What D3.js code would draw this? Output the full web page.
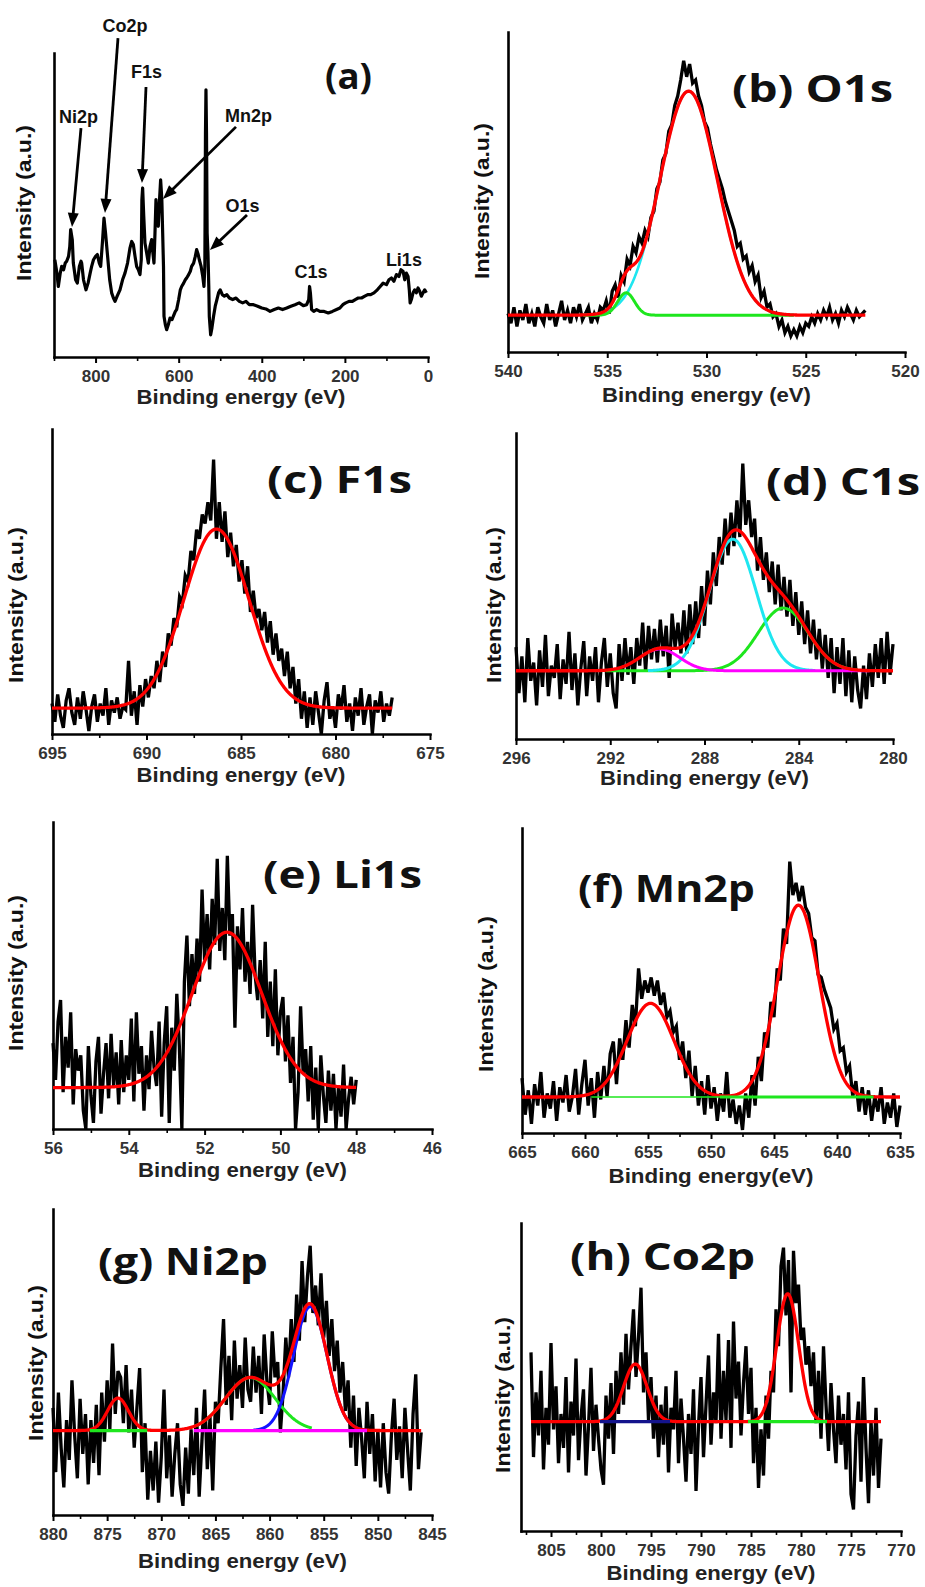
<!DOCTYPE html>
<html>
<head>
<meta charset="utf-8">
<script src="https://cdn.jsdelivr.net/npm/d3@7"></script>
<style>
  html, body { margin: 0; padding: 0; background: #fff; }
  svg { display: block; }
</style>
</head>
<body>
<svg id="fig" width="925" height="1587"></svg>
<script>
// ---------- (a) survey spectrum: binding energy (eV) and intensity (a.u., 0-100 of frame) ----------
const surveyEnergy = [898,893,889.6,885,881.5,877,873,869.5,865,862,859.9,856,853.5,848,843.9,839,835,833.4,829,823,
  818,813,809.4,805,800,795.7,791,787.7,783,779.7,776,771.7,766,761.3,757,753.2,748,741.2,735,729.2,
  723,717.1,713,709.1,705,701.1,697,693.1,690,688.5,686.7,684,681.1,677,673,669,665,662,659.4,657,
  654.6,652,649,646,643.4,640.5,638.5,636.5,635.3,632,628.9,625,620.9,616,612.9,608,604.9,600,596,592.8,
  588,584,580.8,576,572,568.8,564,560,556.7,553,550.3,546,542,539.1,537,535.5,534.3,533,531.5,529.5,
  527.5,526.3,523,520,516,512,508,504,500,495,490,484,478,470,462,454,446,438,430,420,
  410,400,390,380,370,360,350,340,330,320,310,300,292,287,285,283,280,275,268,260,
  250,240,230,220,212,205,198,190,182,175,168,160,152,145,138,130,122,115,108,100,
  94,88,82,76,70,65,60,56,52,48,45,43,40,36,32,28,24,20,16,12,8,4];
const surveyIntensity = [32.0,27.6,23.2,27.6,29.8,28.7,30.9,31.5,33.1,36.4,41.9,38.6,30.9,25.4,24.3,29.8,31.5,30.9,25.4,22.1,
  24.3,27.6,29.8,32.0,33.1,33.7,30.9,29.8,38.6,45.7,40.8,34.2,25.4,21.1,19.4,18.3,20.0,22.1,25.4,27.6,
  30.9,35.9,38.0,37.0,33.1,29.8,28.7,27.1,32.0,51.8,55.6,46.3,37.5,34.2,30.9,36.4,38.6,34.2,30.9,40.8,
  51.8,46.3,43.0,51.8,58.3,51.8,40.8,29.8,13.4,10.6,9.0,10.6,12.8,12.3,13.4,15.0,15.6,18.9,22.1,23.2,
  24.3,25.4,26.0,27.1,28.2,29.8,30.9,33.1,35.3,33.7,32.0,29.8,26.5,23.2,29.8,73.7,87.9,73.7,40.8,34.2,
  23.2,13.4,7.3,9.5,13.4,16.7,18.9,21.1,22.1,20.5,20.0,20.5,19.4,18.9,19.4,18.3,17.8,18.3,17.2,17.2,
  16.7,16.1,15.8,15.0,15.6,16.1,15.6,16.1,16.7,17.2,17.8,16.9,17.2,18.9,23.2,21.1,15.6,15.0,15.6,15.0,
  15.0,14.5,15.0,15.6,16.1,17.2,17.8,18.3,18.3,18.9,19.4,19.4,20.0,20.5,20.5,21.1,22.1,23.2,24.3,23.8,
  25.4,26.0,24.9,27.1,26.5,28.7,28.2,25.4,27.6,26.5,22.1,17.8,18.9,21.1,22.1,21.1,22.7,21.6,20.0,21.1,22.1,21.1];
const surveyTicks = [800, 600, 400, 200, 0];
// peak callouts: label, label anchor (eV, a.u.), arrow tail and tip (eV, a.u.) or null
const surveyLabels = ["Ni2p", "Co2p", "F1s", "Mn2p", "O1s", "C1s", "Li1s"];
const surveyLabelAt = [[841, 77], [729, 106.9], [677.5, 91.8], [432, 77.3], [446.5, 47.7], [281.7, 26], [58, 29.9]];
const surveyArrows = [[[835, 75.3], [856.7, 42.8]], [[746, 104.9], [777.3, 47.4]], [[678.6, 88.8], [688.3, 57.2]],
  [[462.1, 75.7], [637.8, 52]], [[435.6, 46.7], [524.7, 35.2]], null, null];

// ---------- high-resolution regions: counts on an even energy grid across the span ----------
// fitted components are given as [centre (eV), height (a.u.), FWHM (eV)] above a flat background

// (b) O1s
const o1sSpan = [540, 522];
const o1sCounts = [12,9,14,8,13,10,15,9,12,8,14,11,9,15,10,13,8,12,16,10,13,9,14,11,15,10,12,14,9,
  12,10,14,13,16,12,19,21,17,24,22,
  29,27,33,31,36,34,38,36,
  42,44,51,53,60,62,69,71,77,80,85,91,86,
  90,84,85,80,77,72,70,65,61,57,54,51,47,44,41,38,33,34,29,
  30,25,27,22,24,17,19,14,15,11,12,8,10,6,8,5,7,5,8,6,9,8,11,9,12,
  10,13,11,14,10,12,9,13,11,14,12,10,13,11,12,13];
const o1sBackground = 11.5;
const o1sPeaks = [[530.9, 70, 3.4], [534.05, 7, 1.0]];
const o1sTicks = [540, 535, 530, 525, 520];

// (c) F1s
const f1sSpan = [695, 677];
const f1sCounts = [10,4,13,6,2,11,15,7,3,12,5,14,8,1,9,13,4,10,6,15,3,11,7,12,5,9,
  8,24,6,14,3,16,9,18,12,19,15,24,17,27,22,33,29,38,35,45,43,52,50,60,57,67,64,72,69,76,
  70,90,64,76,63,73,58,66,55,62,50,57,46,55,40,47,38,41,34,40,30,37,26,33,24,28,19,27,15,22,
  10,18,5,14,2,12,
  3,14,7,0,11,17,5,9,2,13,8,16,4,10,1,12,6,15,3,9,13,0,11,7,14,4,10,6,12];
const f1sBackground = 8.5;
const f1sPeaks = [[686.3, 58.7, 4.06]];
const f1sTicks = [695, 690, 685, 680, 675];

// (d) C1s
const c1sSpan = [296, 280];
const c1sCounts = [30,15,27,12,33,19,25,11,29,17,34,14,24,20,31,13,26,18,35,16,28,11,23,32,14,27,19,30,12,25,33,17,28,
  15,10,31,19,33,21,30,18,33,24,38,22,37,26,36,25,39,27,37,20,41,30,38,28,42,28,44,31,45,33,
  50,37,55,44,61,50,66,57,72,60,74,63,78,66,90,70,78,66,72,55,66,52,61,48,58,44,57,42,53,40,
  52,37,48,34,45,31,42,28,39,26,36,23,34,20,33,15,30,18,33,14,29,12,27,16,10,24,13,28,17,31,
  20,33,18,35,21,31];
const c1sBackground = 22.3;
const c1sPeaks = [[286.8, 43, 2.33], [284.66, 20.5, 2.5], [289.9, 7.1, 2.0]];
const c1sTicks = [296, 292, 288, 284, 280];

// (e) Li1s
const li1sSpan = [56, 48];
const li1sCounts = [28,16,35,42,12,30,20,38,8,26,19,
  24,6,0,27,11,2,22,30,5,18,
  28,10,31,14,25,8,29,12,24,16,
  36,9,38,18,27,6,24,13,32,20,
  14,35,4,28,40,2,33,19,44,27,
  0,48,63,40,57,44,62,48,78,55,
  70,52,75,60,88,58,72,55,89,63,
  70,33,66,52,72,48,61,44,73,50,
  42,55,36,61,30,48,27,52,24,38,
  43,22,37,15,30,0,12,40,18,26,
  9,27,3,20,0,24,11,2,19,6,
  18,0,14,4,21,0,10,17,8,16];
const li1sBackground = 13.5;
const li1sPeaks = [[51.41, 50.6, 2.16]];
const li1sTicks = [56, 54, 52, 50, 48, 46];

// (f) Mn2p
const mn2pSpan = [665, 635];
const mn2pCounts = [18,6,14,3,16,9,20,5,13,8,17,4,15,10,19,7,
  12,21,6,16,24,
  9,18,5,20,11,22,12,26,30,16,31,24,37,28,42,35,54,44,50,46,
  51,45,50,42,46,38,40,33,35,24,30,18,27,12,22,9,17,6,19,8,
  15,4,13,7,20,5,11,3,9,1,13,5,19,9,25,17,33,28,43,38,
  54,50,67,62,89,78,82,76,81,74,72,64,63,52,51,47,44,41,34,36,
  27,28,20,22,12,17,7,15,6,14,4,12,7,15,3,10,5,13,2,9];
const mn2pBackground = 11.8;
const mn2pPeaks = [[654.8, 30.7, 4.36], [643.06, 62.9, 3.9]];
const mn2pTicks = [665, 660, 655, 650, 645, 640, 635];

// (g) Ni2p
const ni2pSpan = [880, 846];
const ni2pCounts = [35,14,40,22,9,31,18,44,26,12,38,20,33,
  10,31,17,36,13,40,24,44,28,56,33,47,
  45,30,49,27,41,22,35,48,14,30,5,21,
  8,24,4,19,41,12,26,6,20,30,10,3,
  22,7,28,13,35,6,24,41,15,32,8,37,
  30,48,64,36,52,31,57,38,49,35,58,41,
  37,55,40,52,33,59,44,36,60,45,50,27,
  40,58,45,64,50,72,57,83,63,78,88,66,
  75,62,79,58,70,52,64,47,57,40,50,34,
  44,22,39,16,35,25,12,37,20,33,11,28,
  9,30,14,7,26,38,18,29,12,35,21,8,33,46,15,27];
const ni2pBackground = 27.6;
const ni2pPeaks = [[874.0, 10.6, 2.28], [861.78, 17.3, 5.42], [856.24, 40.5, 3.65]];
const ni2pTicks = [880, 875, 870, 865, 860, 855, 850, 845];

// (h) Co2p
const co2pSpan = [807, 772];
const co2pCounts = [58,24,45,31,52,20,40,28,61,33,47,22,38,
  27,50,19,42,31,56,23,37,46,18,34,53,26,41,30,20,
  15,44,30,48,25,52,38,58,41,64,46,60,
  72,50,63,79,45,58,36,50,30,44,24,41,
  28,47,19,40,33,52,22,43,30,16,38,25,
  46,13,34,50,24,41,57,28,45,35,64,30,
  52,36,62,27,68,43,55,31,48,60,38,53,
  22,40,14,33,18,44,30,52,45,72,60,86,
  92,70,88,45,91,74,80,62,66,54,60,47,
  58,35,52,30,60,41,26,48,33,22,44,28,
  38,20,45,12,7,31,42,16,50,27,9,36,18,40,14,30];
const co2pBackground = 35.5;
const co2pPeaks = [[796.57, 18.7, 2.77], [781.33, 41.5, 2.57]];
const co2pTicks = [805, 800, 795, 790, 785, 780, 775, 770];

// ---------- drawing ----------
const FONT = "'Liberation Sans', Arial, Helvetica, sans-serif";
const LABEL_FONT = "'Open Sans', 'Liberation Sans', Arial, sans-serif";
const COL = { red: "#ff0000", green: "#1ee61e", cyan: "#1ee6f0", magenta: "#ff00ff", blue: "#1414ff", navy: "#14148c" };
const svg = d3.select("#fig");

const gauss = (e, pk) => pk[1] * Math.exp(-4 * Math.LN2 * (e - pk[0]) ** 2 / (pk[2] * pk[2]));

// Frames, axes and titles shared by every panel
function frame(p) {
  const g = svg.append("g");
  const x = d3.scaleLinear().domain(p.domain).range([p.box.x0, p.box.x1]);
  const y = d3.scaleLinear().domain([0, 100]).range([p.box.y1, p.box.y0]);

  const major = g.append("g")
    .attr("transform", `translate(0,${p.box.y1})`)
    .call(d3.axisBottom(x).tickValues(p.ticks).tickSize(6).tickSizeOuter(0).tickFormat(d3.format("d")));
  major.attr("font-family", FONT).attr("font-size", 17).attr("font-weight", "bold");
  major.select(".domain").attr("stroke-width", 2.4).attr("stroke-linecap", "square");
  major.selectAll(".tick line").attr("stroke-width", 2);
  major.selectAll(".tick text").attr("fill", "#333").attr("y", 12.5);

  const minorVals = d3.range(p.minor[0], p.domain[1], p.minor[1]);
  const minor = g.append("g")
    .attr("transform", `translate(0,${p.box.y1})`)
    .call(d3.axisBottom(x).tickValues(minorVals).tickSize(4).tickSizeOuter(0).tickFormat(""));
  minor.select(".domain").remove();
  minor.selectAll(".tick line").attr("stroke-width", 1.6);

  const yAxis = g.append("g")
    .attr("transform", `translate(${p.box.x0},0)`)
    .call(d3.axisLeft(y).tickValues([]).tickSizeOuter(0));
  yAxis.select(".domain").attr("stroke-width", 2.6).attr("stroke-linecap", "square");

  g.append("text")
    .attr("x", (p.box.x0 + p.box.x1) / 2).attr("y", p.box.y1 + p.titleDy)
    .attr("text-anchor", "middle").attr("font-family", FONT).attr("font-weight", "bold")
    .attr("font-size", 21).attr("fill", "#222")
    .attr("textLength", p.titleLen || 209).attr("lengthAdjust", "spacingAndGlyphs")
    .text(p.title || "Binding energy (eV)");

  g.append("text")
    .attr("transform", `translate(${p.yLab[0]},${p.yLab[1]}) rotate(-90)`)
    .attr("text-anchor", "middle").attr("dominant-baseline", "central")
    .attr("font-family", FONT).attr("font-weight", "bold").attr("font-size", 21).attr("fill", "#111")
    .attr("textLength", 156).attr("lengthAdjust", "spacingAndGlyphs")
    .text("Intensity (a.u.)");

  if (p.label) {
    g.append("text")
      .attr("x", p.label[1]).attr("y", p.label[2])
      .attr("font-family", LABEL_FONT).attr("font-weight", "bold")
      .attr("font-size", p.labelSize || 37).attr("fill", "#111")
      .attr("textLength", p.label[3]).attr("lengthAdjust", "spacingAndGlyphs")
      .text(p.label[0]);
  }
  return { g, x, y };
}

// ---- (a) survey ----
(function survey() {
  const p = { box: { x0: 54, x1: 428, y0: 53, y1: 357 }, domain: [900, 0], ticks: surveyTicks,
    minor: [900, -200], titleDy: 47, yLab: [23, 203],
    label: ["(a)", 325, 89, 47], labelSize: 35 };
  const { g, x, y } = frame(p);
  const pts = surveyEnergy.map((e, i) => [e, surveyIntensity[i]]);
  g.append("path")
    .attr("d", d3.line().x(d => x(d[0])).y(d => y(d[1]))(pts))
    .attr("fill", "none").attr("stroke", "#000").attr("stroke-width", 3.2).attr("stroke-linejoin", "round");

  surveyLabels.forEach((name, i) => {
    const at = surveyLabelAt[i];
    g.append("text")
      .attr("x", x(at[0])).attr("y", y(at[1]))
      .attr("text-anchor", "middle").attr("font-family", FONT).attr("font-weight", "bold")
      .attr("font-size", 18).attr("fill", "#111")
      .text(name);
    const arrow = surveyArrows[i];
    if (!arrow) return;
    const sx = x(arrow[0][0]), sy = y(arrow[0][1]);
    const tx = x(arrow[1][0]), ty = y(arrow[1][1]);
    const len = Math.hypot(tx - sx, ty - sy);
    const ux = (tx - sx) / len, uy = (ty - sy) / len;
    const head = 14, half = 5.5;
    g.append("line")
      .attr("x1", sx).attr("y1", sy).attr("x2", tx - ux * (head - 2)).attr("y2", ty - uy * (head - 2))
      .attr("stroke", "#000").attr("stroke-width", 2.8);
    const bx = tx - ux * head, by = ty - uy * head;
    g.append("polygon")
      .attr("points", [[tx, ty], [bx - uy * half, by + ux * half], [bx + uy * half, by - ux * half]].map(q => q.join(",")).join(" "))
      .attr("fill", "#000");
  });
})();

// ---- (b)-(h) high-resolution regions ----
// component entries: [peak index or null for the flat background, colour, from eV, to eV, stroke width]
const regions = [
  { box: { x0: 508, x1: 905, y0: 32, y1: 352 }, domain: [540, 520], ticks: o1sTicks, minor: [537.5, -5],
    titleDy: 50, yLab: [481, 201], label: ["(b) O1s", 732, 102, 161],
    span: o1sSpan, counts: o1sCounts, base: o1sBackground, peaks: o1sPeaks,
    comps: [[0, "cyan", 536.2, 525.6, 2.6], [1, "green", 536.2, 525.6, 3]] },
  { box: { x0: 52, x1: 430, y0: 429, y1: 734 }, domain: [695, 675], ticks: f1sTicks, minor: [692.5, -5],
    titleDy: 48, yLab: [15, 605], label: ["(c) F1s", 267, 493, 145],
    span: f1sSpan, counts: f1sCounts, base: f1sBackground, peaks: f1sPeaks, comps: [] },
  { box: { x0: 516, x1: 893, y0: 433, y1: 739 }, domain: [296, 280], ticks: c1sTicks, minor: [294, -4],
    titleDy: 46, yLab: [493, 605], label: ["(d) C1s", 766, 495, 154],
    span: c1sSpan, counts: c1sCounts, base: c1sBackground, peaks: c1sPeaks,
    comps: [[1, "green", 292.2, 281.5, 3], [0, "cyan", 290.4, 283.3, 3], [2, "magenta", 290.3, 281, 3]] },
  { box: { x0: 53, x1: 432, y0: 822, y1: 1129 }, domain: [56, 46], ticks: li1sTicks, minor: [55, -2],
    titleDy: 48, yLab: [15, 973], label: ["(e) Li1s", 263, 888, 159],
    span: li1sSpan, counts: li1sCounts, base: li1sBackground, peaks: li1sPeaks, comps: [] },
  { box: { x0: 522, x1: 900, y0: 828, y1: 1133 }, domain: [665, 635], ticks: mn2pTicks, minor: [662.5, -5],
    titleDy: 50, title: "Binding energy(eV)", titleLen: 205, yLab: [485, 994], label: ["(f) Mn2p", 578, 902, 177],
    span: mn2pSpan, counts: mn2pCounts, base: mn2pBackground, peaks: mn2pPeaks,
    comps: [[null, "green", 659.5, 649.3, 1.3], [null, "green", 649.3, 637.1, 3.2]] },
  { box: { x0: 53, x1: 432, y0: 1209, y1: 1515 }, domain: [880, 845], ticks: ni2pTicks, minor: [877.5, -5],
    titleDy: 53, yLab: [35, 1363], label: ["(g) Ni2p", 98, 1275, 170],
    span: ni2pSpan, counts: ni2pCounts, base: ni2pBackground, peaks: ni2pPeaks,
    comps: [[null, "green", 876.6, 871.3, 3.2], [1, "green", 867, 856.1, 3], [2, "blue", 861.5, 851, 3], [null, "magenta", 867, 851, 3.2]] },
  { box: { x0: 521, x1: 901, y0: 1223, y1: 1531 }, domain: [808, 770], ticks: co2pTicks, minor: [807.5, -5],
    titleDy: 49, yLab: [502, 1395], label: ["(h) Co2p", 570, 1270, 185],
    span: co2pSpan, counts: co2pCounts, base: co2pBackground, peaks: co2pPeaks,
    comps: [[null, "navy", 800.1, 793.1, 3.2], [null, "green", 785.3, 777.4, 3.2]] }
];

regions.forEach(p => {
  const { g, x, y } = frame(p);
  const line = d3.line().x(d => x(d[0])).y(d => y(d[1]));
  const n = p.counts.length;
  const pts = p.counts.map((v, i) => [p.span[0] + (p.span[1] - p.span[0]) * i / (n - 1), v]);
  g.append("path").attr("d", line(pts))
    .attr("fill", "none").attr("stroke", "#000").attr("stroke-width", 3.3).attr("stroke-linejoin", "miter");

  const sample = (a, b, f) => d3.range(401).map(k => { const e = a + (b - a) * k / 400; return [e, f(e)]; });
  const envelope = e => p.base + d3.sum(p.peaks, pk => gauss(e, pk));
  const flat = p.comps.filter(c => c[0] === null);
  const curves = p.comps.filter(c => c[0] !== null);
  curves.forEach(([idx, col, a, b, w]) => {
    g.append("path").attr("d", line(sample(a, b, e => p.base + gauss(e, p.peaks[idx]))))
      .attr("fill", "none").attr("stroke", COL[col]).attr("stroke-width", w);
  });
  g.append("path").attr("d", line(sample(p.span[0], p.span[1], envelope)))
    .attr("fill", "none").attr("stroke", COL.red).attr("stroke-width", 3.3).attr("stroke-linejoin", "round");
  // flat background segments sit on top of the envelope under each peak
  flat.forEach(([, col, a, b, w]) => {
    g.append("path").attr("d", line(sample(a, b, () => p.base)))
      .attr("fill", "none").attr("stroke", COL[col]).attr("stroke-width", w);
  });
});
</script>
</body>
</html>
